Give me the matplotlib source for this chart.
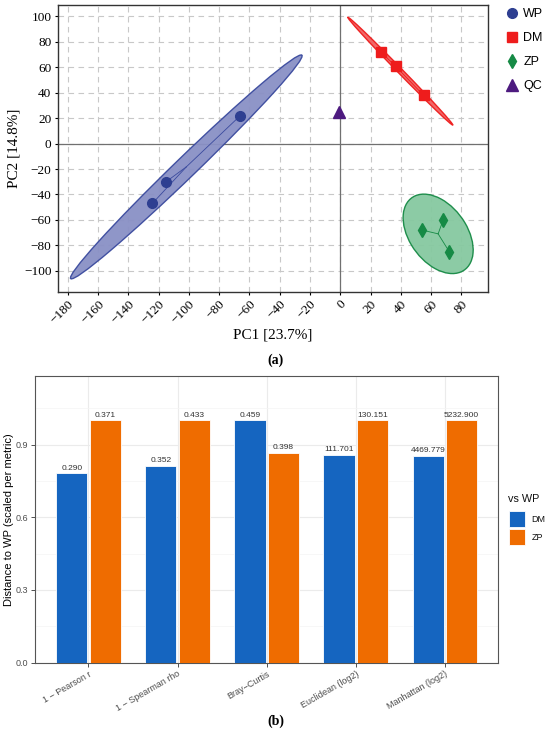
import numpy as np
import matplotlib
matplotlib.use("Agg")
import matplotlib.pyplot as plt
from matplotlib.patches import Ellipse, Rectangle

# ---------------- data ----------------
groups = ["WP", "DM", "ZP", "QC"]
wp_pc1 = [-66, -115, -124]
wp_pc2 = [22, -30, -47]
dm_pc1 = [27, 37, 55]
dm_pc2 = [72, 61, 38]
zp_pc1 = [54, 68, 72]
zp_pc2 = [-68, -60, -85]
qc_pc1 = [-1]
qc_pc2 = [25]

metrics = ["1 \u2212 Pearson r", "1 \u2212 Spearman rho", "Bray\u2212Curtis",
           "Euclidean (log2)", "Manhattan (log2)"]
dm_raw = [0.290, 0.352, 0.459, 111.701, 4469.779]
zp_raw = [0.371, 0.433, 0.398, 130.151, 5232.900]
dm_lbl = ["0.290", "0.352", "0.459", "111.701", "4469.779"]
zp_lbl = ["0.371", "0.433", "0.398", "130.151", "5232.900"]
legend_b = ["DM", "ZP"]

# ---------------- figure ----------------
fig = plt.figure(figsize=(5.5, 7.33), dpi=100)
W, H = 550, 733

def ax_rect(x0, y0, x1, y1):
    return [x0 / W, 1 - y1 / H, (x1 - x0) / W, (y1 - y0) / H]

def fx(px):
    return px / W

def fy(py):
    return 1 - py / H

serif = ["Liberation Serif", "DejaVu Serif"]
sans = ["Liberation Sans", "DejaVu Sans"]

# ---------- panel a ----------
ax = fig.add_axes(ax_rect(57.7, 5, 487.7, 291.7))
ax.set_xlim(-186.6, 97.4)
ax.set_ylim(-116.5, 109)
ax.set_xticks(np.arange(-180, 81, 20))
ax.set_yticks(np.arange(-100, 101, 20))
ax.grid(True, color="#c8c8c8", linestyle=(0, (5, 4)), linewidth=0.8)
ax.set_axisbelow(True)
ax.axhline(0, color="#707070", linewidth=0.9, zorder=1)
ax.axvline(0, color="#707070", linewidth=0.9, zorder=1)

specs = [
    ("WP", wp_pc1, wp_pc2, "#2E3F91", "o", "#3A4A9E", "#8990C5", 7, 15),
    ("DM", dm_pc1, dm_pc2, "#EE1C1C", "s", "#EE1C1C", "#F26060", 6.5, 3.5),
    ("ZP", zp_pc1, zp_pc2, "#168A45", "d", "#168A45", "#86C9A0", 7.5, 0),
]
chi = np.sqrt(5.991)
for name, xs, ys, col, mk, ecol, fcol, ms, hmin in specs:
    xs = np.array(xs, float); ys = np.array(ys, float)
    cov = np.cov(xs, ys)
    vals, vecs = np.linalg.eigh(cov)
    order = vals.argsort()[::-1]
    vals, vecs = vals[order], vecs[:, order]
    ang = np.degrees(np.arctan2(vecs[1, 0], vecs[0, 0]))
    w = 2 * chi * np.sqrt(max(vals[0], 0))
    h = 2 * chi * np.sqrt(max(vals[1], 0))
    cx, cy = xs.mean(), ys.mean()
    ax.add_patch(Ellipse((cx, cy), w, max(h, hmin), angle=ang, facecolor=fcol,
                         edgecolor=ecol, linewidth=1.0, zorder=2, alpha=0.95))
    for x, y in zip(xs, ys):
        ax.plot([cx, x], [cy, y], color=ecol, linewidth=0.6, zorder=3)
    ax.plot(xs, ys, linestyle="none", marker=mk, color=col, markersize=ms,
            zorder=4, label=name)
ax.plot(qc_pc1, qc_pc2, linestyle="none", marker="^", color="#4D1A7F",
        markersize=8, zorder=4, label="QC")

for lbl in ax.get_xticklabels() + ax.get_yticklabels():
    lbl.set_family(serif)
    lbl.set_fontsize(9.5)
plt.setp(ax.get_xticklabels(), rotation=45, ha="right", rotation_mode="anchor")
ax.tick_params(direction="out", length=2.5, width=0.8, colors="black", pad=2)
ax.set_xlabel("PC1 [23.7%]", family=serif, fontsize=11)
ax.set_ylabel("PC2 [14.8%]", family=serif, fontsize=11)
ax.xaxis.set_label_coords((273 - 57.7) / 430, -(335 - 291.7) / 286.7)
ax.xaxis.label.set_va("center")
ax.yaxis.set_label_coords(-(57.7 - 14) / 430, 0.5)
ax.yaxis.label.set_va("center")
for s in ax.spines.values():
    s.set_color("#333333"); s.set_linewidth(1.0)

leg = ax.legend(loc="upper left", bbox_to_anchor=(fx(499.5), fy(3.0)),
                bbox_transform=fig.transFigure, frameon=False,
                prop={"family": sans, "size": 9}, handletextpad=0.3,
                labelspacing=0.97, handlelength=1.2, borderaxespad=0)

fig.text(fx(276), fy(360.7), "(a)", family=serif, fontsize=10,
         fontweight="bold", ha="center", va="center")

# ---------- panel b ----------
bx = fig.add_axes(ax_rect(35, 376, 498.3, 662.5))
x = np.arange(1, len(metrics) + 1)
mx = [max(a, b) for a, b in zip(dm_raw, zp_raw)]
dm_s = [a / m for a, m in zip(dm_raw, mx)]
zp_s = [b / m for b, m in zip(zp_raw, mx)]
off = 0.1875
bw = 0.35
cols_b = ["#1565C0", "#EF6C00"]
bx.bar(x - off, dm_s, width=bw, color=cols_b[0], edgecolor="white",
       linewidth=0.6, label="DM", zorder=3)
bx.bar(x + off, zp_s, width=bw, color=cols_b[1], edgecolor="white",
       linewidth=0.6, label="ZP", zorder=3)
for xi, v, t in zip(x - off, dm_s, dm_lbl):
    bx.text(xi, v + 0.006, t, ha="center", va="bottom", fontsize=6,
            family=sans, color="#333333")
for xi, v, t in zip(x + off, zp_s, zp_lbl):
    bx.text(xi, v + 0.006, t, ha="center", va="bottom", fontsize=6,
            family=sans, color="#333333")
bx.set_xlim(0.4, 5.6)
bx.set_ylim(0, 1.183)
bx.set_yticks([0.0, 0.3, 0.6, 0.9])
bx.set_yticklabels(["0.0", "0.3", "0.6", "0.9"])
bx.set_yticks([0.15, 0.45, 0.75, 1.05], minor=True)
bx.set_xticks(x)
bx.set_xticklabels(metrics, rotation=30, ha="right", rotation_mode="anchor")
bx.grid(True, which="major", color="#EBEBEB", linewidth=0.8, zorder=0)
bx.grid(True, which="minor", axis="y", color="#F4F4F4", linewidth=0.5, zorder=0)
bx.set_axisbelow(True)
bx.tick_params(axis="both", which="major", direction="out", length=3,
               width=0.6, color="#333333", labelsize=6.5, labelcolor="#4D4D4D",
               pad=2)
bx.tick_params(axis="y", which="minor", length=0)
for lbl in bx.get_xticklabels() + bx.get_yticklabels():
    lbl.set_family(sans)
bx.set_ylabel("Distance to WP (scaled per metric)", family=sans, fontsize=8)
bx.yaxis.set_label_coords(-(35 - 9) / 463.3, 0.5)
bx.yaxis.label.set_va("center")
for s in bx.spines.values():
    s.set_color("#555555"); s.set_linewidth(0.8)

# legend for panel b (keys placed in figure coordinates)
fig.text(fx(507.7), fy(499), "vs WP", family=sans, fontsize=7.8,
         ha="left", va="center", color="#111111")
key_tops = [510.7, 529]
for name, c, top in zip(legend_b, cols_b, key_tops):
    fig.patches.append(Rectangle((fx(508.7), fy(top + 16)), 16.3 / W, 16 / H,
                                 transform=fig.transFigure, facecolor=c,
                                 edgecolor="white", linewidth=0.6))
    fig.text(fx(531.7), fy(top + 8.3), name, family=sans, fontsize=6.5,
             ha="left", va="center", color="#111111")

fig.text(fx(276), fy(721.7), "(b)", family=serif, fontsize=10,
         fontweight="bold", ha="center", va="center")

fig.savefig("out.png", dpi=100)
